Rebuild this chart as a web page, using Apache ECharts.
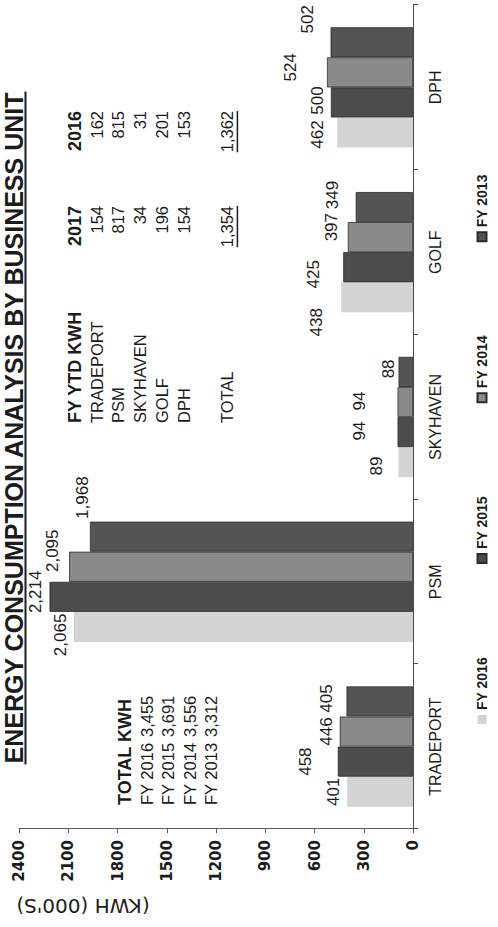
<!DOCTYPE html>
<html>
<head>
<meta charset="utf-8">
<title>Energy Consumption Analysis by Business Unit</title>
<script src="https://cdn.jsdelivr.net/npm/echarts@6/dist/echarts.min.js"></script>
<style>
  html, body { margin: 0; padding: 0; background: #fff; width: 498px; height: 927px; overflow: hidden; }
  /* landscape page, turned a quarter turn counter-clockwise */
  #chart { position: absolute; left: 0; top: 0; width: 927px; height: 498px;
           transform-origin: 0 0; transform: translate(0, 927px) rotate(-90deg); }
</style>
</head>
<body>
<div id="chart"></div>
<script>
// ---- data ----
const categories = ['TRADEPORT', 'PSM', 'SKYHAVEN', 'GOLF', 'DPH'];
const seriesNames = ['FY 2016', 'FY 2015', 'FY 2014', 'FY 2013'];
const fy2016 = [401, 2065, 89, 438, 462];
const fy2015 = [458, 2214, 94, 425, 500];
const fy2014 = [446, 2095, 94, 397, 524];
const fy2013 = [405, 1968, 88, 349, 502];
const axisMin = 0, axisMax = 2400, axisStep = 300;

const ytdYears = ['2017', '2016'];
const ytdUnits = ['TRADEPORT', 'PSM', 'SKYHAVEN', 'GOLF', 'DPH'];
const ytd2017 = [154, 817, 34, 196, 154];
const ytd2016 = [162, 815, 31, 201, 153];
const ytdTotals = [1354, 1362];

const titleText = 'ENERGY CONSUMPTION ANALYSIS BY BUSINESS UNIT';
const axisTitle = "(KWH (000'S)";

// ---- styling ----
const barColors = ['#d4d4d4', '#4c4c4c', '#8a8a8a', '#545454'];
const SANS = "'Liberation Sans', Arial, sans-serif";
const VERD = "'DejaVu Sans', Verdana, sans-serif";
const INK = '#1c1c1c';

// hand-placed value labels: [dx, dy] nudge per series (row) and unit (column)
const labelNudge = [
  [[0, 0], [-8, 0], [-4, -8.5], [-25, -11.5], [-2, -6]],
  [[0, -18.5], [5, -1], [1, -24.5], [-7, -16.5], [2, 0]],
  [[0, 0], [16, -3], [1, -24.5], [10, -2.5], [5, -22.5]],
  [[3, -6.5], [39, 6.5], [3, 3], [12, -10], [23, -9.5]]
];

const seriesValues = [fy2016, fy2015, fy2014, fy2013];
const yearTotals = seriesValues.map(a => a.reduce((s, v) => s + v, 0));
const fmt = v => Number(v).toLocaleString('en-US');

const measure = (() => {
  const ctx = document.createElement('canvas').getContext('2d');
  return (str, font) => { ctx.font = font; return ctx.measureText(str).width; };
})();

const graphic = [];
function addText(str, x, y, font, align, rotation) {
  graphic.push({
    type: 'text', x: x, y: y, rotation: rotation || 0, silent: true,
    style: { text: str, font: font, fill: INK,
             align: align, verticalAlign: 'middle',
             textAlign: align, textVerticalAlign: 'middle' }
  });
}
function addRule(x1, x2, y, w) {
  graphic.push({ type: 'line', silent: true,
    shape: { x1: x1, y1: y, x2: x2, y2: y },
    style: { stroke: INK, lineWidth: w } });
}

// title, underlined
const titleFont = 'bold 25px ' + SANS;
const titleW = measure(titleText, titleFont);
addText(titleText, 499, 14, titleFont, 'center');
addRule(499 - titleW / 2, 499 + titleW / 2, 25.5, 2);

// value-axis title
addText(axisTitle, 21, 83, '20px ' + VERD, 'center', Math.PI / 2);

// yearly totals box
const regFont = '16.5px ' + SANS;
const boldFont = 'bold 18px ' + SANS;
const t1Rows = ['TOTAL KWH'].concat(seriesNames);
t1Rows.forEach((row, i) => {
  const y = 125 + i * 21.5;
  addText(row, 122, y, i === 0 ? boldFont : regFont, 'left');
  if (i > 0) addText(fmt(yearTotals[i - 1]), 190, y, regFont, 'left');
});

// year-to-date box
const t2Step = 21.7, t2Top = 75;
const t2Labels = ['FY YTD KWH'].concat(ytdUnits, ['', 'TOTAL']);
t2Labels.forEach((row, i) => {
  if (row) addText(row, 504, t2Top + i * t2Step, i === 0 ? boldFont : regFont, 'left');
});
[[ytd2017, 721], [ytd2016, 816]].forEach(([col, xr], c) => {
  addText(ytdYears[c], xr, t2Top, boldFont, 'right');
  col.forEach((v, i) => addText(fmt(v), xr, t2Top + (i + 1) * t2Step, regFont, 'right'));
  const yTot = t2Top + 7 * t2Step;
  const totStr = fmt(ytdTotals[c]);
  addText(totStr, xr, yTot, regFont, 'right');
  const w = measure(totStr, regFont);
  addRule(xr - w, xr, yTot + 10.5, 1.5);
});

// ---- chart ----
const chart = echarts.init(document.getElementById('chart'), null,
  { renderer: 'svg', width: 927, height: 498 });

chart.setOption({
  animation: false,
  backgroundColor: '#ffffff',
  grid: { left: 98, right: 5, top: 19, bottom: 85, containLabel: false },
  legend: {
    data: seriesNames, left: 198, top: 470, icon: 'rect',
    itemWidth: 9, itemHeight: 9, itemGap: 93,
    textStyle: { fontFamily: SANS, fontWeight: 'bold', fontSize: 14, color: INK }
  },
  xAxis: {
    type: 'category', data: categories,
    axisLine: { show: true, lineStyle: { color: '#4a4a4a', width: 1 } },
    axisTick: { show: true, length: 5, lineStyle: { color: '#4a4a4a' } },
    axisLabel: { interval: 0, margin: 14, fontFamily: SANS, fontSize: 16, color: INK },
    splitLine: { show: false }
  },
  yAxis: {
    type: 'value', min: axisMin, max: axisMax, interval: axisStep,
    axisLine: { show: true, lineStyle: { color: '#5a5a5a', width: 1 } },
    axisTick: { show: true, length: 4, lineStyle: { color: '#5a5a5a' } },
    axisLabel: { margin: 11, fontFamily: VERD, fontWeight: 'bold', fontSize: 15, color: INK,
                 formatter: v => String(v) },
    splitLine: { show: false }
  },
  series: seriesValues.map((vals, i) => ({
    name: seriesNames[i], type: 'bar',
    data: vals.map((v, j) => ({ value: v, label: { offset: labelNudge[i][j] } })),
    barGap: '0%', barCategoryGap: '27%',
    itemStyle: { color: barColors[i],
                 borderColor: i === 0 ? barColors[i] : '#2c2c2c',
                 borderWidth: i === 0 ? 0 : 0.8 },
    label: { show: true, position: 'top', distance: 5,
             fontFamily: SANS, fontSize: 17, color: INK,
             formatter: p => fmt(p.value) }
  })),
  graphic: graphic
});
</script>
</body>
</html>
